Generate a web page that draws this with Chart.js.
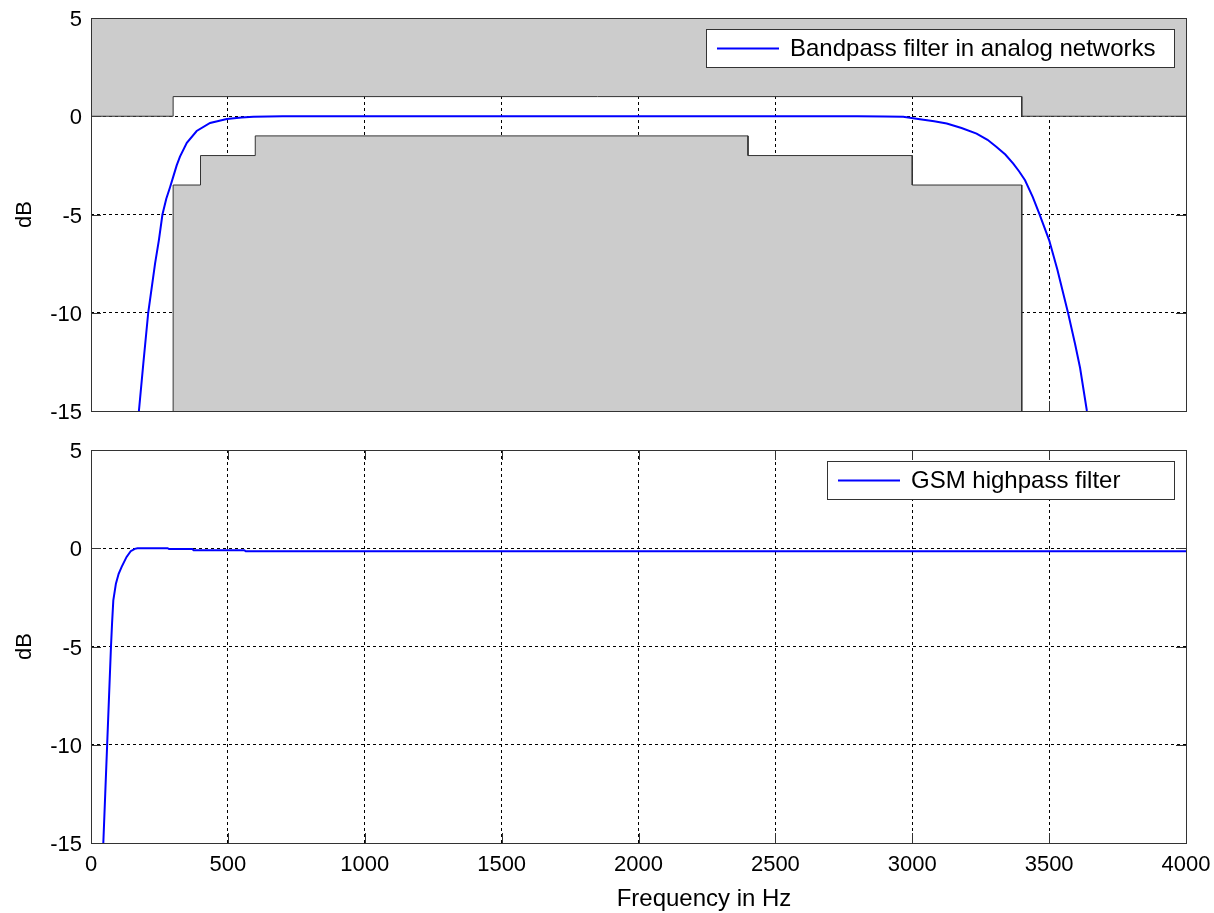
<!DOCTYPE html>
<html>
<head>
<meta charset="utf-8">
<script src="https://cdn.jsdelivr.net/npm/chart.js@4.4.1/dist/chart.umd.min.js"></script>
<style>
  body { margin: 0; background: #fff; }
  #wrap { position: relative; width: 1214px; height: 913px; }
  #topChart { position: absolute; left: 0; top: 0; }
  #bottomChart { position: absolute; left: 0; top: 430px; }
</style>
</head>
<body>
<div id="wrap">
  <canvas id="topChart" width="1214" height="430"></canvas>
  <canvas id="bottomChart" width="1214" height="483"></canvas>
</div>
<script>
// Bandpass filter response (Hz, dB)
const bandpassHz = [175, 191, 209, 234, 248, 261, 275, 289, 300, 313, 325, 350, 386, 435, 496, 550, 593, 700,
  1500, 2800, 2900, 2967, 3028, 3080, 3126, 3180, 3235, 3275, 3308, 3340, 3369, 3390, 3412, 3440, 3464,
  3500, 3530, 3569, 3595, 3613, 3638];
const bandpassDb = [-15, -12.6, -10, -7.5, -6.3, -5, -4.2, -3.6, -3.1, -2.5, -2.05, -1.35, -0.75, -0.34, -0.14, -0.06, -0.02, 0,
  0, 0, -0.01, -0.03, -0.15, -0.25, -0.37, -0.6, -0.88, -1.2, -1.56, -1.95, -2.41, -2.8, -3.26, -4.1, -4.95,
  -6.3, -7.8, -10, -11.6, -12.8, -15];

// Tolerance mask, upper limit (filled up to +5 dB)
const upperMaskHz = [0, 300, 300, 3400, 3400, 4000];
const upperMaskDb = [0, 0, 1, 1, 0, 0];

// Tolerance mask, lower limit (filled down to -15 dB)
const lowerMaskHz = [300, 300, 400, 400, 600, 600, 2400, 2400, 3000, 3000, 3400, 3400];
const lowerMaskDb = [-15, -3.5, -3.5, -2, -2, -1, -1, -2, -2, -3.5, -3.5, -15];

// GSM highpass filter response (Hz, dB)
const gsmHz = [45, 52, 59, 66, 73, 77, 81.5, 91, 101, 112, 130, 145, 160, 170, 280, 285, 370, 375, 560, 565, 4000];
const gsmDb = [-15, -12.5, -10, -7.5, -5, -3.8, -2.65, -1.8, -1.3, -0.95, -0.44, -0.15, -0.03, 0, 0, -0.04, -0.04, -0.1, -0.1, -0.15, -0.15];

const xTicks = [0, 500, 1000, 1500, 2000, 2500, 3000, 3500, 4000];
const yTicks = [-15, -10, -5, 0, 5];

const FAMILY = "'Liberation Sans', Arial, sans-serif";
const TICK_FONT = { family: FAMILY, size: 22 };
const LABEL_FONT = { family: FAMILY, size: 24 };

function pts(xs, ys) {
  return xs.map((x, i) => ({ x: x, y: ys[i] }));
}

// frame, inner tick marks, legend box and x label drawn like a MATLAB axes
const axesPlugin = {
  id: "matlabAxes",
  beforeDatasetsDraw(chart) {
    const { ctx, chartArea: a, scales } = chart;
    ctx.save();
    ctx.strokeStyle = "#333";
    ctx.lineWidth = 1;
    ctx.beginPath();
    xTicks.forEach((v) => {
      const px = Math.round(scales.x.getPixelForValue(v)) + 0.5;
      ctx.moveTo(px, a.bottom); ctx.lineTo(px, a.bottom - 10);
      ctx.moveTo(px, a.top); ctx.lineTo(px, a.top + 10);
    });
    yTicks.forEach((v) => {
      const py = Math.round(scales.y.getPixelForValue(v)) + 0.5;
      ctx.moveTo(a.left, py); ctx.lineTo(a.left + 10, py);
      ctx.moveTo(a.right, py); ctx.lineTo(a.right - 10, py);
    });
    ctx.stroke();
    ctx.restore();
  },
  afterDraw(chart, args, opts) {
    const { ctx, chartArea: a } = chart;
    ctx.save();
    ctx.strokeStyle = "#333";
    ctx.lineWidth = 1;
    ctx.strokeRect(Math.round(a.left) + 0.5, Math.round(a.top) + 0.5,
      Math.round(a.right - a.left), Math.round(a.bottom - a.top));

    // legend
    const w = opts.width, h = 38;
    const x0 = Math.round(a.right) - 12 - w, y0 = Math.round(a.top) + 11;
    ctx.fillStyle = "#fff";
    ctx.fillRect(x0, y0, w, h);
    ctx.strokeRect(x0 + 0.5, y0 + 0.5, w, h);
    ctx.strokeStyle = "#0000ff";
    ctx.lineWidth = 2;
    ctx.beginPath();
    ctx.moveTo(x0 + 11, y0 + h / 2 + 0.5);
    ctx.lineTo(x0 + 73, y0 + h / 2 + 0.5);
    ctx.stroke();
    ctx.fillStyle = "#000";
    ctx.font = LABEL_FONT.size + "px " + FAMILY;
    ctx.textBaseline = "middle";
    ctx.fillText(opts.text, x0 + 84, y0 + h / 2 + 1);

    // x label (sits right of centre in the original)
    if (opts.xlabel) {
      ctx.textAlign = "center";
      ctx.textBaseline = "alphabetic";
      ctx.fillText(opts.xlabel, 704, chart.height - 7);
    }
    ctx.restore();
  },
};

function scalesFor(showX) {
  return {
    x: {
      type: "linear", min: 0, max: 4000,
      afterBuildTicks: (s) => { s.ticks = xTicks.map((v) => ({ value: v })); },
      afterFit: (s) => { s.height = showX ? 70 : 19; s.paddingLeft = 0; s.paddingRight = 0; },
      ticks: { display: showX, color: "#000", font: TICK_FONT, padding: 9, maxRotation: 0, autoSkip: false,
        callback: (v) => String(v) },
      grid: { color: "#000", lineWidth: 1, drawTicks: false },
      border: { display: false, dash: [3, 3] },
      title: { display: false },
    },
    y: {
      min: -15, max: 5,
      afterBuildTicks: (s) => { s.ticks = yTicks.map((v) => ({ value: v })); },
      afterFit: (s) => { s.width = 91; s.paddingTop = 0; s.paddingBottom = 0; },
      ticks: { color: "#000", font: TICK_FONT, padding: 9, labelOffset: 2, callback: (v) => String(v) },
      grid: { color: "#000", lineWidth: 1, drawTicks: false },
      border: { display: false, dash: [3, 3] },
      title: { display: true, text: "dB", color: "#000", font: TICK_FONT, padding: { top: 12, bottom: 0 } },
    },
  };
}

const lineStyle = { borderColor: "#0000ff", borderWidth: 2, pointRadius: 0, tension: 0, fill: false, order: 0 };
const maskStyle = { borderColor: "#333", borderWidth: 1, backgroundColor: "#cccccc", pointRadius: 0, tension: 0, order: 1 };

new Chart(document.getElementById("topChart"), {
  type: "line",
  data: {
    datasets: [
      Object.assign({ label: "Bandpass filter in analog networks", data: pts(bandpassHz, bandpassDb) }, lineStyle),
      Object.assign({ label: "upper mask", data: pts(upperMaskHz, upperMaskDb), fill: "end" }, maskStyle),
      Object.assign({ label: "lower mask", data: pts(lowerMaskHz, lowerMaskDb), fill: "start" }, maskStyle),
    ],
  },
  options: {
    responsive: false,
    animation: false,
    layout: { padding: { left: 0, right: 28, top: 18, bottom: 0 } },
    scales: scalesFor(false),
    plugins: {
      legend: { display: false },
      tooltip: { enabled: false },
      matlabAxes: { text: "Bandpass filter in analog networks", width: 468 },
    },
  },
  plugins: [axesPlugin],
});

new Chart(document.getElementById("bottomChart"), {
  type: "line",
  data: {
    datasets: [
      Object.assign({ label: "GSM highpass filter", data: pts(gsmHz, gsmDb) }, lineStyle),
    ],
  },
  options: {
    responsive: false,
    animation: false,
    layout: { padding: { left: 0, right: 28, top: 20, bottom: 0 } },
    scales: scalesFor(true),
    plugins: {
      legend: { display: false },
      tooltip: { enabled: false },
      matlabAxes: { text: "GSM highpass filter", width: 347, xlabel: "Frequency in Hz" },
    },
  },
  plugins: [axesPlugin],
});
</script>
</body>
</html>
